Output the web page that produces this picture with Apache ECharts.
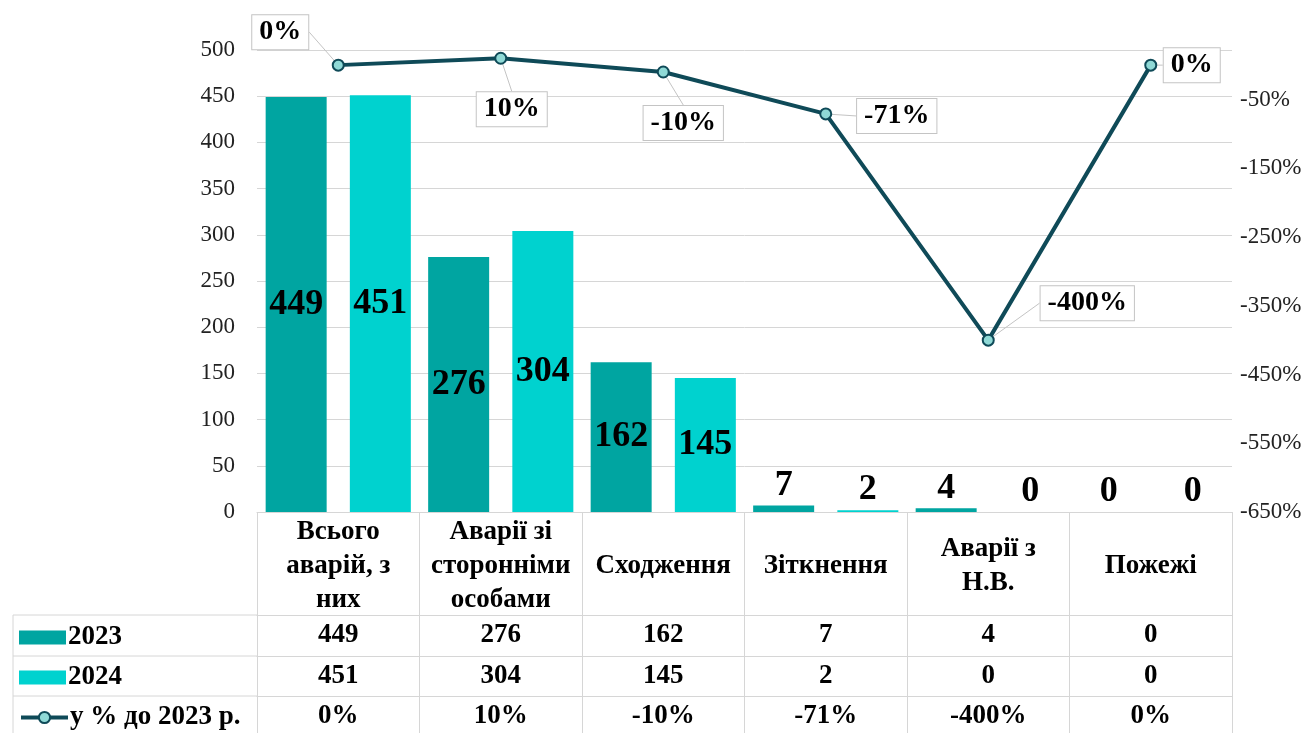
<!DOCTYPE html>
<html>
<head>
<meta charset="utf-8">
<script src="https://cdn.jsdelivr.net/npm/echarts@6/dist/echarts.min.js"></script>
<style>
html,body{margin:0;padding:0;background:#fff;}
#chart{width:1312px;height:733px;}
</style>
</head>
<body>
<div id="chart"></div>
<script>
// ---- data ----
const categories = ['Всього\nаварій, з\nних', 'Аварії зі\nсторонніми\nособами', 'Сходження', 'Зіткнення', 'Аварії з\nН.В.', 'Пожежі'];
const seriesNames = ['2023', '2024', 'у % до 2023 р.'];
const values2023 = [449, 276, 162, 7, 4, 0];
const values2024 = [451, 304, 145, 2, 0, 0];
const percentChange = [0, 10, -10, -71, -400, 0];
const leftTicks = { min: 0, max: 500, interval: 50 };
const rightTicks = { min: -650, max: 22, interval: 100 };

// ---- styling / layout ----
const FONT = 'Liberation Serif';
const C2023 = '#00A5A1';
const C2024 = '#00D2CF';
const CLINE = '#0F4A58';
const GRIDC = '#d6d6d6';
const gridTop = 50, gridBottom = 221, gridLeft = 257, gridRight = 80;
const headerH = 103, rowH = [41, 40, 40];
const lineLabelShift = [[-58, -33], [11, 51], [20, 51], [71, 2], [99, -37], [41, 0]];

function barData(vals) {
  return vals.map(v => ({
    value: v,
    label: v > 50 ? { position: 'inside' } : { position: 'top', distance: 2 }
  }));
}

const tableAxis = (offset, len, labels, margin, fontSize) => ({
  type: 'category',
  data: categories,
  position: 'bottom',
  offset: offset,
  axisLine: { show: true, onZero: false, lineStyle: { color: GRIDC, width: 1 } },
  axisTick: { show: true, interval: 0, length: len, lineStyle: { color: GRIDC, width: 1 } },
  axisLabel: {
    interval: 0,
    margin: margin,
    verticalAlign: 'middle',
    formatter: (v, i) => labels ? labels[i] : v,
    fontFamily: FONT, fontWeight: 'bold', fontSize: fontSize, color: '#000', lineHeight: 34
  },
  splitLine: { show: false }
});

const legendBase = (name, top, icon) => ({
  orient: 'vertical',
  left: 14, top: top,
  itemWidth: 47, itemHeight: 14,
  icon: icon,
  data: [name],
  lineStyle: { width: 4 },
  textStyle: { fontFamily: FONT, fontWeight: 'bold', fontSize: 27, color: '#000', padding: [0, 0, 0, -3] }
});

const chart = echarts.init(document.getElementById('chart'), null, { renderer: 'canvas' });
chart.setOption({
  animation: false,
  backgroundColor: '#fff',
  grid: { left: gridLeft, right: gridRight, top: gridTop, bottom: gridBottom, containLabel: false },
  legend: [
    legendBase(seriesNames[0], 619, 'rect'),
    legendBase(seriesNames[1], 659, 'rect'),
    legendBase(seriesNames[2], 699)
  ],
  xAxis: [
    tableAxis(0, headerH, null, headerH / 2 + 3, 27),
    tableAxis(headerH, rowH[0], values2023.map(String), rowH[0] / 2, 27),
    tableAxis(headerH + rowH[0], rowH[1], values2024.map(String), rowH[1] / 2, 27),
    tableAxis(headerH + rowH[0] + rowH[1], rowH[2], percentChange.map(v => v + '%'), rowH[2] / 2, 27)
  ],
  yAxis: [
    {
      type: 'value', min: leftTicks.min, max: leftTicks.max, interval: leftTicks.interval,
      axisLine: { show: false }, axisTick: { show: false },
      splitLine: { lineStyle: { color: GRIDC, width: 1 } },
      axisLabel: { margin: 22, fontFamily: FONT, fontSize: 23, color: '#222' }
    },
    {
      type: 'value', min: rightTicks.min, max: rightTicks.max, interval: rightTicks.interval,
      position: 'right',
      axisLine: { show: false }, axisTick: { show: false }, splitLine: { show: false },
      axisLabel: { margin: 8, showMaxLabel: false, formatter: v => v + '%', fontFamily: FONT, fontSize: 23, color: '#222' }
    }
  ],
  series: [
    {
      name: seriesNames[0], type: 'bar', xAxisIndex: 0, yAxisIndex: 0,
      data: barData(values2023), barWidth: 61, barGap: '38%',
      itemStyle: { color: C2023 },
      label: { show: true, fontFamily: FONT, fontWeight: 'bold', fontSize: 36, color: '#000' }
    },
    {
      name: seriesNames[1], type: 'bar', xAxisIndex: 0, yAxisIndex: 0,
      data: barData(values2024), barWidth: 61, barGap: '38%',
      itemStyle: { color: C2024 },
      label: { show: true, fontFamily: FONT, fontWeight: 'bold', fontSize: 36, color: '#000' }
    },
    {
      name: seriesNames[2], type: 'line', xAxisIndex: 0, yAxisIndex: 1,
      data: percentChange,
      symbol: 'circle', symbolSize: 11,
      lineStyle: { color: CLINE, width: 4 },
      itemStyle: { color: '#8FD9D6', borderColor: CLINE, borderWidth: 2 },
      label: {
        show: true, position: 'inside', formatter: p => p.value + '%',
        fontFamily: FONT, fontWeight: 'bold', fontSize: 28, color: '#000',
        backgroundColor: '#fff', borderColor: '#c4c4c4', borderWidth: 1, padding: [4, 7, 2, 7]
      },
      labelLine: { show: true, lineStyle: { color: '#c4c4c4', width: 1 } },
      labelLayout: p => ({ dx: lineLabelShift[p.dataIndex][0], dy: lineLabelShift[p.dataIndex][1] }),
      z: 5
    }
  ],
  graphic: [
    { type: 'line', shape: { x1: 13, y1: 615, x2: gridLeft, y2: 615 }, style: { stroke: GRIDC, lineWidth: 1 } },
    { type: 'line', shape: { x1: 13, y1: 656, x2: gridLeft, y2: 656 }, style: { stroke: GRIDC, lineWidth: 1 } },
    { type: 'line', shape: { x1: 13, y1: 696, x2: gridLeft, y2: 696 }, style: { stroke: GRIDC, lineWidth: 1 } },
    { type: 'line', shape: { x1: 13, y1: 615, x2: 13, y2: 733 }, style: { stroke: GRIDC, lineWidth: 1 } }
  ]
});
</script>
</body>
</html>
